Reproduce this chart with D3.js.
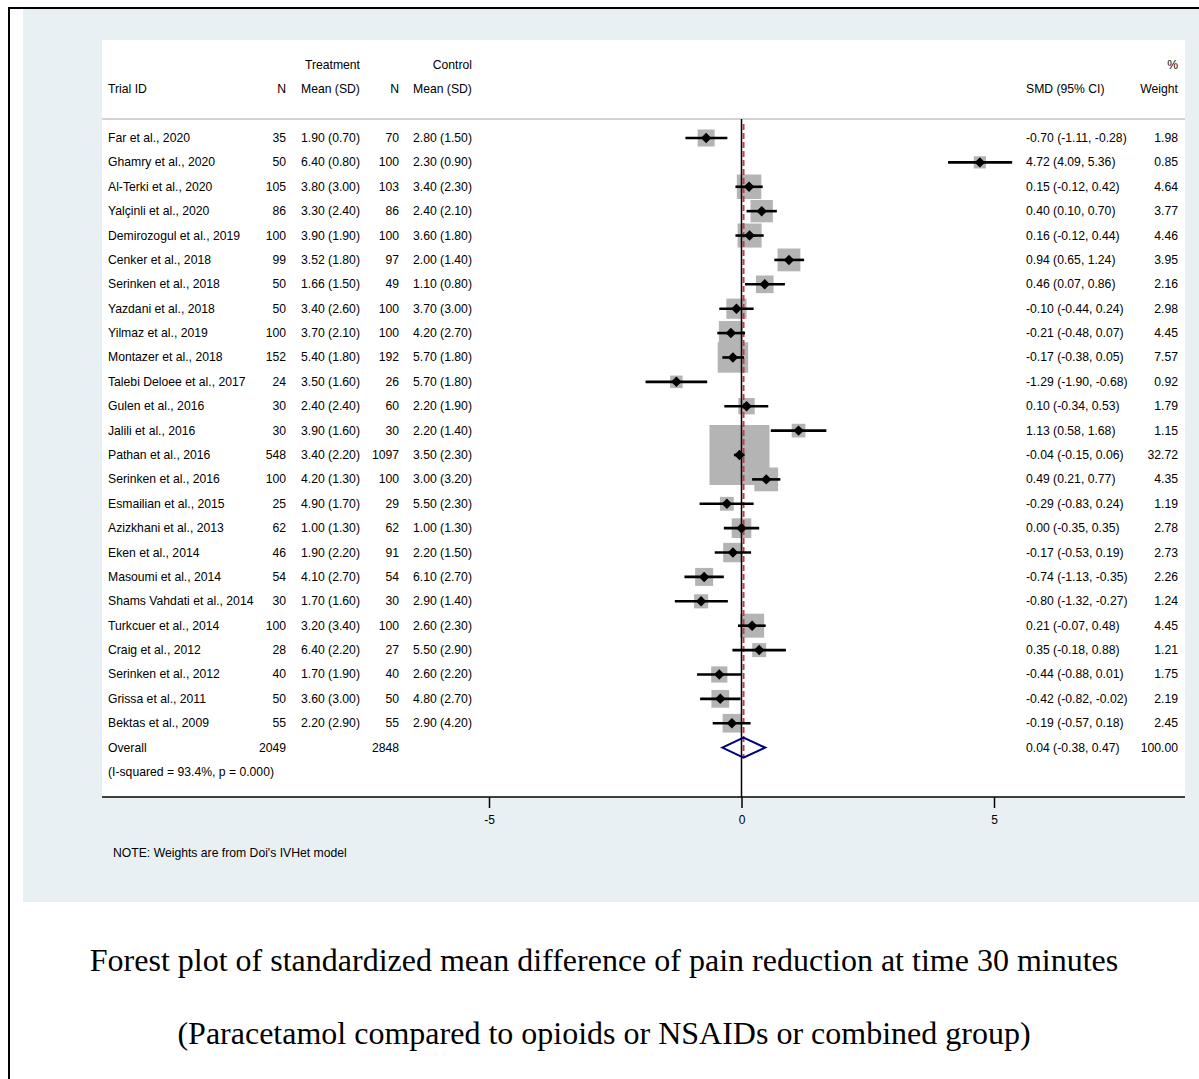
<!DOCTYPE html>
<html>
  <head>
    <meta charset="utf-8">
    <title>Forest plot</title>
    <script src="https://d3js.org/d3.v7.min.js"></script>
  </head>
  <style>
    body { margin: 0; background: #fff; }
    svg { display: block; }
    .tbl { font-family: "Liberation Sans", Arial, sans-serif; font-size: 12.2px; fill: #000; }
  </style>
  <body>
  <svg width="1199" height="1079"></svg>
  <script>

  // study data
  var studies = ["Far et al., 2020", "Ghamry et al., 2020", "Al-Terki et al., 2020", "Yalçinli et al., 2020",
    "Demirozogul et al., 2019", "Cenker et al., 2018", "Serinken et al., 2018", "Yazdani et al., 2018",
    "Yilmaz et al., 2019", "Montazer et al., 2018", "Talebi Deloee et al., 2017", "Gulen et al., 2016",
    "Jalili et al., 2016", "Pathan et al., 2016", "Serinken et al., 2016", "Esmailian et al., 2015",
    "Azizkhani et al., 2013", "Eken et al., 2014", "Masoumi et al., 2014", "Shams Vahdati et al., 2014",
    "Turkcuer et al., 2014", "Craig et al., 2012", "Serinken et al., 2012", "Grissa et al., 2011",
    "Bektas et al., 2009"];
  var nTreat = [35, 50, 105, 86, 100, 99, 50, 50, 100, 152, 24, 30, 30, 548, 100, 25, 62, 46, 54, 30, 100, 28, 40, 50, 55];
  var meanTreat = [1.90, 6.40, 3.80, 3.30, 3.90, 3.52, 1.66, 3.40, 3.70, 5.40, 3.50, 2.40, 3.90, 3.40, 4.20, 4.90, 1.00, 1.90, 4.10, 1.70, 3.20, 6.40, 1.70, 3.60, 2.20];
  var sdTreat = [0.70, 0.80, 3.00, 2.40, 1.90, 1.80, 1.50, 2.60, 2.10, 1.80, 1.60, 2.40, 1.60, 2.20, 1.30, 1.70, 1.30, 2.20, 2.70, 1.60, 3.40, 2.20, 1.90, 3.00, 2.90];
  var nCtrl = [70, 100, 103, 86, 100, 97, 49, 100, 100, 192, 26, 60, 30, 1097, 100, 29, 62, 91, 54, 30, 100, 27, 40, 50, 55];
  var meanCtrl = [2.80, 2.30, 3.40, 2.40, 3.60, 2.00, 1.10, 3.70, 4.20, 5.70, 5.70, 2.20, 2.20, 3.50, 3.00, 5.50, 1.00, 2.20, 6.10, 2.90, 2.60, 5.50, 2.60, 4.80, 2.90];
  var sdCtrl = [1.50, 0.90, 2.30, 2.10, 1.80, 1.40, 0.80, 3.00, 2.70, 1.80, 1.80, 1.90, 1.40, 2.30, 3.20, 2.30, 1.30, 1.50, 2.70, 1.40, 2.30, 2.90, 2.20, 2.70, 4.20];
  var smd = [-0.70, 4.72, 0.15, 0.40, 0.16, 0.94, 0.46, -0.10, -0.21, -0.17, -1.29, 0.10, 1.13, -0.04, 0.49, -0.29, 0.00, -0.17, -0.74, -0.80, 0.21, 0.35, -0.44, -0.42, -0.19];
  var ciLow = [-1.11, 4.09, -0.12, 0.10, -0.12, 0.65, 0.07, -0.44, -0.48, -0.38, -1.90, -0.34, 0.58, -0.15, 0.21, -0.83, -0.35, -0.53, -1.13, -1.32, -0.07, -0.18, -0.88, -0.82, -0.57];
  var ciHigh = [-0.28, 5.36, 0.42, 0.70, 0.44, 1.24, 0.86, 0.24, 0.07, 0.05, -0.68, 0.53, 1.68, 0.06, 0.77, 0.24, 0.35, 0.19, -0.35, -0.27, 0.48, 0.88, 0.01, -0.02, 0.18];
  var weight = [1.98, 0.85, 4.64, 3.77, 4.46, 3.95, 2.16, 2.98, 4.45, 7.57, 0.92, 1.79, 1.15, 32.72, 4.35, 1.19, 2.78, 2.73, 2.26, 1.24, 4.45, 1.21, 1.75, 2.19, 2.45];

  var overallN = [2049, 2848];
  var overall = {est: 0.04, lo: -0.38, hi: 0.47, w: 100.00};
  var hetText = "(I-squared = 93.4%, p = 0.000)";
  var xTicks = [-5, 0, 5];

  var svg = d3.select("svg");
  // plain hyphen for negatives, like the original output
  var loc = d3.formatLocale({decimal: ".", thousands: ",", grouping: [3], currency: ["", ""], minus: "-"});
  var f2 = loc.format(".2f");

  // outer frame + panel background
  svg.append("rect").attr("x", 23).attr("y", 9).attr("width", 1176).attr("height", 893).attr("fill", "#e8f0f3");
  svg.append("rect").attr("x", 102).attr("y", 40).attr("width", 1083).attr("height", 757).attr("fill", "#fff");
  svg.append("line").attr("x1", 9).attr("x2", 1199).attr("y1", 8).attr("y2", 8).attr("stroke", "#000").attr("stroke-width", 2);
  svg.append("line").attr("x1", 9).attr("x2", 9).attr("y1", 7).attr("y2", 1079).attr("stroke", "#000").attr("stroke-width", 2);

  // scales
  var x = d3.scaleLinear().domain([-5, 5]).range([489, 994]);
  var rows = d3.range(studies.length + 2);
  var y = d3.scalePoint().domain(rows).range([138, 772]);
  var boxSize = d3.scaleSqrt().domain([0, d3.max(weight)]).range([3, 60]);

  // header
  var hdr = svg.append("g").attr("class", "tbl");
  hdr.append("text").attr("x", 360).attr("y", 69).attr("text-anchor", "end").text("Treatment");
  hdr.append("text").attr("x", 472).attr("y", 69).attr("text-anchor", "end").text("Control");
  hdr.append("text").attr("x", 1178).attr("y", 69).attr("text-anchor", "end").text("%");
  hdr.append("text").attr("x", 108).attr("y", 93).text("Trial ID");
  hdr.append("text").attr("x", 286).attr("y", 93).attr("text-anchor", "end").text("N");
  hdr.append("text").attr("x", 301).attr("y", 93).text("Mean (SD)");
  hdr.append("text").attr("x", 399).attr("y", 93).attr("text-anchor", "end").text("N");
  hdr.append("text").attr("x", 413).attr("y", 93).text("Mean (SD)");
  hdr.append("text").attr("x", 1026).attr("y", 93).text("SMD (95% CI)");
  hdr.append("text").attr("x", 1178).attr("y", 93).attr("text-anchor", "end").text("Weight");

  svg.append("line").attr("x1", 102).attr("x2", 1185).attr("y1", 119).attr("y2", 119)
    .attr("stroke", "#c4c4c4").attr("stroke-width", 1.5);

  // boxes (weights)
  var g = svg.append("g");
  g.selectAll("rect.box").data(studies).enter().append("rect")
    .attr("class", "box")
    .attr("x", function(d, i) { return x(smd[i]) - boxSize(weight[i]) / 2; })
    .attr("y", function(d, i) { return y(i) - boxSize(weight[i]) / 2; })
    .attr("width", function(d, i) { return boxSize(weight[i]); })
    .attr("height", function(d, i) { return boxSize(weight[i]); })
    .attr("fill", "#b4b4b4");

  // null line
  svg.append("line").attr("x1", x(0)).attr("x2", x(0)).attr("y1", 119).attr("y2", 797)
    .attr("stroke", "#000").attr("stroke-width", 1.5);

  // overall estimate line
  svg.append("line").attr("x1", x(overall.est)).attr("x2", x(overall.est)).attr("y1", 124).attr("y2", 758)
    .attr("stroke", "#b0464c").attr("stroke-width", 2).attr("stroke-dasharray", "6,3");

  // CIs and point estimates
  g = svg.append("g");
  g.selectAll("line.ci").data(studies).enter().append("line")
    .attr("x1", function(d, i) { return x(ciLow[i]); })
    .attr("x2", function(d, i) { return x(ciHigh[i]); })
    .attr("y1", function(d, i) { return y(i); })
    .attr("y2", function(d, i) { return y(i); })
    .attr("stroke", "#000").attr("stroke-width", 2.6);
  g.selectAll("path.pt").data(studies).enter().append("path")
    .attr("d", d3.symbol().type(d3.symbolDiamond2).size(70))
    .attr("transform", function(d, i) { return "translate(" + x(smd[i]) + "," + y(i) + ")"; })
    .attr("fill", "#000");

  // overall diamond
  var yo = y(studies.length);
  svg.append("path")
    .attr("d", "M" + x(overall.lo) + "," + yo + "L" + x(overall.est) + "," + (yo - 10) +
      "L" + x(overall.hi) + "," + yo + "L" + x(overall.est) + "," + (yo + 10) + "Z")
    .attr("fill", "none").attr("stroke", "#000080").attr("stroke-width", 2);

  // table text
  var t = svg.append("g").attr("class", "tbl");
  studies.forEach(function(d, i) {
    var yy = y(i) + 4;
    t.append("text").attr("x", 108).attr("y", yy).text(d);
    t.append("text").attr("x", 286).attr("y", yy).attr("text-anchor", "end").text(nTreat[i]);
    t.append("text").attr("x", 301).attr("y", yy).text(f2(meanTreat[i]) + " (" + f2(sdTreat[i]) + ")");
    t.append("text").attr("x", 399).attr("y", yy).attr("text-anchor", "end").text(nCtrl[i]);
    t.append("text").attr("x", 413).attr("y", yy).text(f2(meanCtrl[i]) + " (" + f2(sdCtrl[i]) + ")");
    t.append("text").attr("x", 1026).attr("y", yy).text(f2(smd[i]) + " (" + f2(ciLow[i]) + ", " + f2(ciHigh[i]) + ")");
    t.append("text").attr("x", 1178).attr("y", yy).attr("text-anchor", "end").text(f2(weight[i]));
  });
  t.append("text").attr("x", 108).attr("y", yo + 4).text("Overall");
  t.append("text").attr("x", 286).attr("y", yo + 4).attr("text-anchor", "end").text(overallN[0]);
  t.append("text").attr("x", 399).attr("y", yo + 4).attr("text-anchor", "end").text(overallN[1]);
  t.append("text").attr("x", 1026).attr("y", yo + 4).text(f2(overall.est) + " (" + f2(overall.lo) + ", " + f2(overall.hi) + ")");
  t.append("text").attr("x", 1178).attr("y", yo + 4).attr("text-anchor", "end").text(f2(overall.w));
  t.append("text").attr("x", 108).attr("y", y(studies.length + 1) + 4).text(hetText);

  // x axis
  var ax = svg.append("g").attr("transform", "translate(0,797)")
    .call(d3.axisBottom(x).tickValues(xTicks).tickSize(11).tickPadding(7).tickFormat(loc.format("d")));
  ax.select(".domain").attr("d", "M102,0H1185").attr("stroke-width", 1.5);
  ax.selectAll(".tick line").attr("stroke-width", 1.5);
  ax.selectAll("text").attr("font-family", "Liberation Sans, Arial, sans-serif").attr("font-size", 12).attr("fill", "#000");

  svg.append("text").attr("class", "tbl").attr("x", 113).attr("y", 857)
    .text("NOTE: Weights are from Doi's IVHet model");

  // caption
  var cap = svg.append("g").attr("font-family", "Liberation Serif, Times New Roman, serif").attr("font-size", 32)
    .attr("text-anchor", "middle");
  cap.append("text").attr("x", 604).attr("y", 971)
    .text("Forest plot of standardized mean difference of pain reduction at time 30 minutes");
  cap.append("text").attr("x", 604).attr("y", 1044)
    .text("(Paracetamol compared to opioids or NSAIDs or combined group)");

  </script>
  </body>
</html>
